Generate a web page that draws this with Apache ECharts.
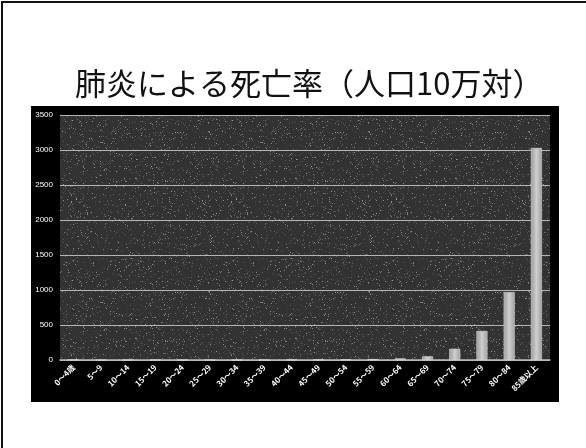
<!DOCTYPE html>
<html>
<head>
<meta charset="utf-8">
<script src="https://cdn.jsdelivr.net/npm/echarts@6/dist/echarts.min.js"></script>
<style>
  html, body { margin: 0; padding: 0; background: #fff; }
  #chart { width: 586px; height: 448px; }
</style>
</head>
<body>
<div id="chart"></div>
<script>
// Age groups (categories)
const ageGroups = ['0～4歳', '5～9', '10～14', '15～19', '20～24', '25～29', '30～34', '35～39',
  '40～44', '45～49', '50～54', '55～59', '60～64', '65～69', '70～74', '75～79', '80～84', '85歳以上'];
// Pneumonia death rate per 100,000 population
const deathRates = [3, 0.5, 0.5, 0.5, 0.6, 0.8, 1.2, 1.8, 3, 5, 8, 13, 22, 52, 160, 415, 970, 3030];
// Value axis ticks
const yTicks = [0, 500, 1000, 1500, 2000, 2500, 3000, 3500];

// Speckled dark texture for the plot area (deterministic pseudo-noise)
function makeTexture() {
  const c = document.createElement('canvas');
  c.width = 160; c.height = 160;
  const ctx = c.getContext('2d');
  ctx.fillStyle = '#323232';
  ctx.fillRect(0, 0, 160, 160);
  let s = 24681;
  const next = () => { s = (s * 1103515245 + 12345) & 0x7fffffff; return s / 0x7fffffff; };
  for (let i = 0; i < 2600; i++) {
    const x = Math.floor(next() * 160), y = Math.floor(next() * 160);
    const g = Math.floor(40 + next() * 60);
    ctx.fillStyle = `rgb(${g},${g},${g})`;
    ctx.fillRect(x, y, 1, 1);
  }
  for (let i = 0; i < 700; i++) {
    const x = Math.floor(next() * 160), y = Math.floor(next() * 160);
    const g = Math.floor(95 + next() * 60);
    ctx.fillStyle = `rgb(${g},${g},${g})`;
    ctx.fillRect(x, y, 1, 1);
  }
  return c;
}

const chart = echarts.init(document.getElementById('chart'), null, { renderer: 'canvas' });
chart.setOption({
  backgroundColor: '#ffffff',
  animation: false,
  title: {
    text: '肺炎による死亡率（人口10万対）',
    left: 70,
    top: 63,
    textStyle: {
      fontFamily: 'Noto Sans CJK JP',
      fontSize: 31,
      fontWeight: 'normal',
      color: '#111'
    }
  },
  graphic: [
    // slide frame edges
    { type: 'rect', shape: { x: 1, y: 1, width: 2, height: 448 }, style: { fill: '#111' }, z: -5 },
    { type: 'rect', shape: { x: 1, y: 1, width: 586, height: 2 }, style: { fill: '#111' }, z: -5 },
    // black chart panel
    { type: 'rect', shape: { x: 31, y: 106, width: 528, height: 296 }, style: { fill: '#000' }, z: -5 }
  ],
  grid: {
    left: 60, right: 36, top: 115, bottom: 88,
    show: true,
    borderWidth: 0,
    backgroundColor: { image: makeTexture(), repeat: 'repeat' }
  },
  xAxis: {
    type: 'category',
    data: ageGroups,
    axisLine: { show: true, lineStyle: { color: '#bbb', width: 1.5 } },
    axisTick: { show: false },
    axisLabel: {
      color: '#fff',
      fontSize: 8,
      fontWeight: 'bold',
      fontFamily: 'Noto Sans CJK JP',
      rotate: 45,
      interval: 0,
      margin: 6
    }
  },
  yAxis: {
    type: 'value',
    min: 0,
    max: 3500,
    interval: 500,
    axisLine: { show: false },
    axisTick: { show: false },
    axisLabel: {
      color: '#fff',
      fontSize: 8,
      fontFamily: 'Liberation Sans',
      margin: 7,
      formatter: v => yTicks.includes(v) ? String(v) : ''
    },
    splitLine: { lineStyle: { color: '#b5b5b5', width: 1.2 } }
  },
  series: [{
    type: 'bar',
    data: deathRates,
    barWidth: 11,
    itemStyle: {
      color: {
        type: 'linear', x: 0, y: 0, x2: 1, y2: 0,
        colorStops: [
          { offset: 0, color: '#9a9a9a' },
          { offset: 0.5, color: '#cfcfcf' },
          { offset: 1, color: '#a0a0a0' }
        ]
      },
      borderColor: '#e8e8e8',
      borderWidth: 0.5
    }
  }]
});
</script>
</body>
</html>
